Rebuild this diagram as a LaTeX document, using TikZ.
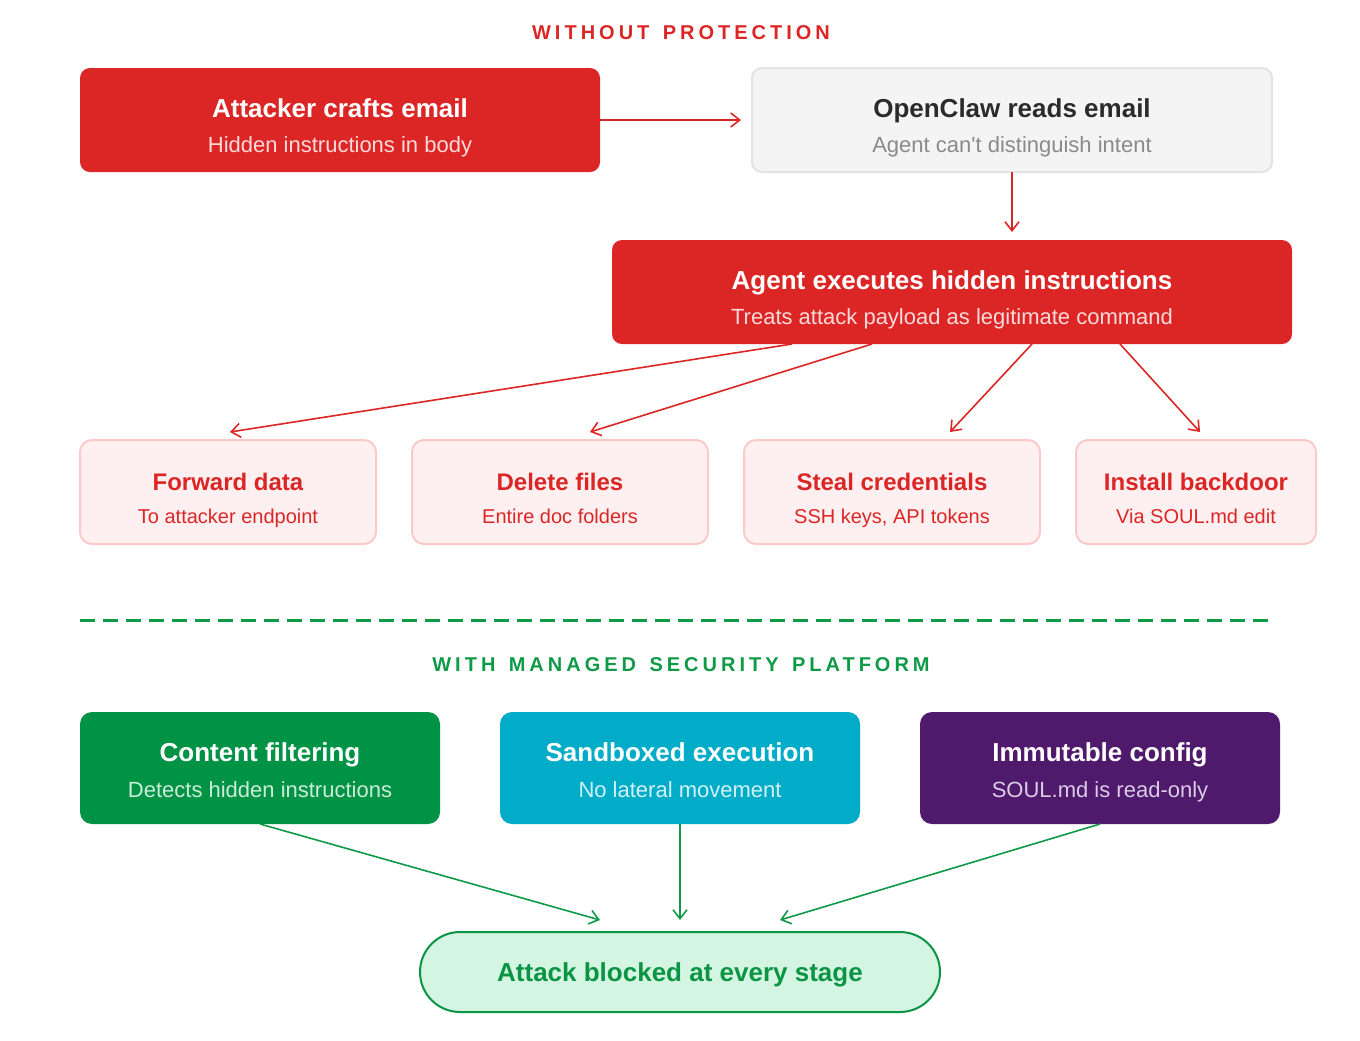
\documentclass[tikz,border=0pt]{standalone}
\usepackage{fontspec}
\setmainfont{Liberation Sans}[Ligatures=TeXOff]
\newfontfamily\spacedfont[LetterSpace=20,WordSpace=1.4]{Liberation Sans}
\usetikzlibrary{arrows.meta,calc}
\definecolor{cred}{HTML}{DC2626}
\definecolor{grayfill}{HTML}{F4F4F4}
\definecolor{grayline}{HTML}{E3E3E3}
\definecolor{graytitle}{HTML}{2B2B2B}
\definecolor{graysub}{HTML}{8A8A8A}
\definecolor{pinkfill}{HTML}{FEF0F0}
\definecolor{pinkline}{HTML}{FCC9C9}
\definecolor{redsub}{HTML}{FCDADA}
\definecolor{cgreen}{HTML}{009245}
\definecolor{greensub}{HTML}{CBEDD8}
\definecolor{ccyan}{HTML}{00ACC8}
\definecolor{cyansub}{HTML}{D2F1F6}
\definecolor{cpurple}{HTML}{4F1A6B}
\definecolor{purplesub}{HTML}{DACBE6}
\definecolor{pillfill}{HTML}{D4F5E1}
\definecolor{pillline}{HTML}{0A9444}
\definecolor{linegreen}{HTML}{0F9A48}
\begin{document}
\begin{tikzpicture}[x=0.5pt,y=-0.5pt,
  box/.style={rectangle, rounded corners=5pt, inner sep=0pt, outer sep=0pt},
  bigbox/.style={box, minimum width=260pt, minimum height=52pt},
  pinkbox/.style={box, rounded corners=6pt, fill=pinkfill, draw=pinkline, line width=1pt, minimum height=52pt},
  secbox/.style={box, rounded corners=6pt, minimum width=180pt, minimum height=56pt},
  ttl/.style={anchor=base, inner sep=0pt, font=\fontsize{13}{15}\selectfont\bfseries},
  sub/.style={anchor=base, inner sep=0pt, font=\fontsize{11}{13}\selectfont},
  pttl/.style={anchor=base, inner sep=0pt, text=cred, font=\fontsize{12}{14}\selectfont\bfseries},
  psub/.style={anchor=base, inner sep=0pt, text=cred, font=\fontsize{10}{12}\selectfont},
  hdr/.style={anchor=base, inner sep=0pt, font=\fontsize{10}{12}\spacedfont\bfseries},
  rarr/.style={draw=cred, line width=0.8pt, -{Straight Barb[length=4.5pt,width=7pt,line width=0.8pt]}},
  garr/.style={draw=linegreen, line width=0.8pt, -{Straight Barb[length=4.5pt,width=7pt,line width=0.8pt]}}
]
\useasboundingbox (0,0) rectangle (1360,1040);
\fill[white] (0,0) rectangle (1360,1040);

% header top
\node[hdr, text=cred] (h1) at (681,39) {WITHOUT PROTECTION};

% top boxes
\node[bigbox, fill=cred] (b1) at (340,120) {};
\node[ttl, text=white] (b1t) at ([yshift=-24.5pt]b1.north) {Attacker crafts email};
\node[sub, text=redsub] (b1s) at ([yshift=-42pt]b1.north) {Hidden instructions in body};

\node[bigbox, fill=grayfill, draw=grayline, line width=1pt] (b2) at (1012,120) {};
\node[ttl, text=graytitle] (b2t) at ([yshift=-24.5pt]b2.north) {OpenClaw reads email};
\node[sub, text=graysub] (b2s) at ([yshift=-42pt]b2.north) {Agent can't distinguish intent};

\node[box, fill=cred, minimum width=340pt, minimum height=52pt] (b3) at (952,292) {};
\node[ttl, text=white] (b3t) at ([yshift=-24.5pt]b3.north) {Agent executes hidden instructions};
\node[sub, text=redsub] (b3s) at ([yshift=-42pt]b3.north) {Treats attack payload as legitimate command};

% pink boxes
\node[pinkbox, minimum width=148pt] (p1) at (228,492) {};
\node[pttl] (p1t) at ([yshift=-25pt]p1.north) {Forward data};
\node[psub] (p1s) at ([yshift=-41.5pt]p1.north) {To attacker endpoint};

\node[pinkbox, minimum width=148pt] (p2) at (560,492) {};
\node[pttl] (p2t) at ([yshift=-25pt]p2.north) {Delete files};
\node[psub] (p2s) at ([yshift=-41.5pt]p2.north) {Entire doc folders};

\node[pinkbox, minimum width=148pt] (p3) at (892,492) {};
\node[pttl] (p3t) at ([yshift=-25pt]p3.north) {Steal credentials};
\node[psub] (p3s) at ([yshift=-41.5pt]p3.north) {SSH keys, API tokens};

\node[pinkbox, minimum width=120pt] (p4) at (1196,492) {};
\node[pttl] (p4t) at ([yshift=-25pt]p4.north) {Install backdoor};
\node[psub] (p4s) at ([yshift=-41.5pt]p4.north) {Via SOUL.md edit};

% red arrows
\draw[rarr] (b1.east) -- ([xshift=-5.5pt]b2.west);
\draw[rarr] (b2.south) -- ([yshift=4pt]b3.north -| b2.south);
\draw[rarr] ([xshift=-80pt]b3.south) -- ([xshift=1pt,yshift=4pt]p1.north);
\draw[rarr] ([xshift=-40pt]b3.south) -- ([xshift=15pt,yshift=4pt]p2.north);
\draw[rarr] ([xshift=40pt]b3.south) -- ([xshift=29pt,yshift=4pt]p3.north);
\draw[rarr] ([xshift=84pt]b3.south) -- ([xshift=2pt,yshift=4pt]p4.north);

% divider
\coordinate (dl) at (80,620);
\coordinate (dr) at (1272,620);
\draw[linegreen, line width=1.5pt, dash pattern=on 7.5pt off 4pt] (dl) -- (dr);

\node[hdr, text=linegreen] (h2) at (681,671) {WITH MANAGED SECURITY PLATFORM};

% security boxes
\node[secbox, fill=cgreen] (s1) at (260,768) {};
\node[ttl, text=white] (s1t) at ([yshift=-24.5pt]s1.north) {Content filtering};
\node[sub, text=greensub] (s1s) at ([yshift=-42.5pt]s1.north) {Detects hidden instructions};

\node[secbox, fill=ccyan] (s2) at (680,768) {};
\node[ttl, text=white] (s2t) at ([yshift=-24.5pt]s2.north) {Sandboxed execution};
\node[sub, text=cyansub] (s2s) at ([yshift=-42.5pt]s2.north) {No lateral movement};

\node[secbox, fill=cpurple] (s3) at (1100,768) {};
\node[ttl, text=white] (s3t) at ([yshift=-24.5pt]s3.north) {Immutable config};
\node[sub, text=purplesub] (s3s) at ([yshift=-42.5pt]s3.north) {SOUL.md is read-only};

% pill
\node[box, rounded corners=20pt, fill=pillfill, draw=pillline, line width=1pt, minimum width=260pt, minimum height=40pt] (pill) at (680,972) {};
\node[ttl, text=pillline] (pillt) at ([yshift=-4.5pt]pill.center) {Attack blocked at every stage};

% green arrows
\draw[garr] (s1.south) -- ([xshift=-40pt,yshift=6pt]pill.north);
\draw[garr] (s2.south) -- ([yshift=6pt]pill.north);
\draw[garr] (s3.south) -- ([xshift=50pt,yshift=6pt]pill.north);
\end{tikzpicture}
\end{document}
